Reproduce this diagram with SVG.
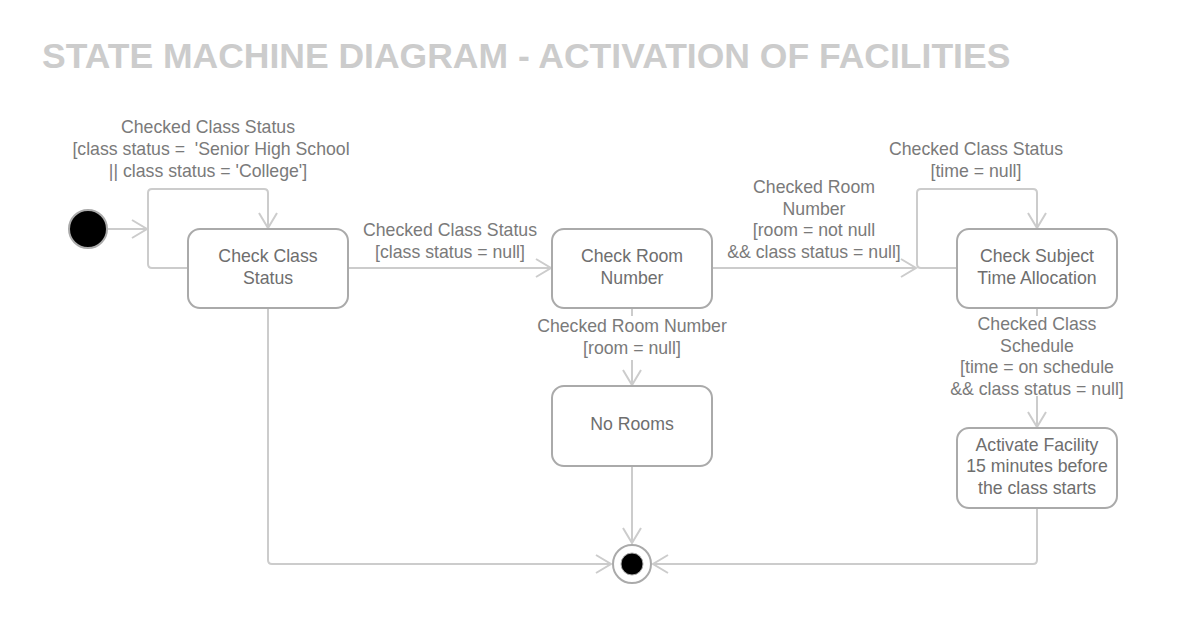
<svg xmlns="http://www.w3.org/2000/svg" width="1188" height="624" viewBox="0 0 1188 624">
<style>
.title{font-family:"Liberation Sans",Arial,sans-serif;font-weight:bold;font-size:35.5px;fill:#cccccc}
.node rect{fill:#ffffff;stroke:#aaaaaa;stroke-width:2}
.nt{font-family:"Liberation Sans",Arial,sans-serif;font-size:17.7px;fill:#6e6e6e;text-anchor:middle}
.lb{font-family:"Liberation Sans",Arial,sans-serif;font-size:17.7px;fill:#7a7a7a;text-anchor:middle}
.edge{fill:none;stroke:#cccccc;stroke-width:2;stroke-linejoin:round}
.ah{fill:none;stroke:#cccccc;stroke-width:2}
</style>
<defs>
<marker id="arr" markerWidth="20" markerHeight="20" refX="17" refY="10" orient="auto" markerUnits="userSpaceOnUse">
<path class="ah" d="M2,1 L17,10 L2,19"/>
</marker>
</defs>
<rect width="1188" height="624" fill="#ffffff"/>
<text class="title" x="42" y="68">STATE MACHINE DIAGRAM - ACTIVATION OF FACILITIES</text>

<g id="connectors">
<path class="edge" d="M108,229 H147" marker-end="url(#arr)"/>
<path class="edge" d="M188,268 H152 Q148,268 148,264 V193 Q148,189 152,189 H264 Q268,189 268,193 V228" marker-end="url(#arr)"/>
<path class="edge" d="M348,268 H551" marker-end="url(#arr)"/>
<path class="edge" d="M712,268 H916" marker-end="url(#arr)"/>
<path class="edge" d="M957,268 H921 Q917,268 917,264 V193 Q917,189 921,189 H1033 Q1037,189 1037,193 V228" marker-end="url(#arr)"/>
<path class="edge" d="M632,308 V385" marker-end="url(#arr)"/>
<path class="edge" d="M632,466 V543" marker-end="url(#arr)"/>
<path class="edge" d="M268,308 V560 Q268,564 272,564 H611" marker-end="url(#arr)"/>
<path class="edge" d="M1037,308 V427" marker-end="url(#arr)"/>
<path class="edge" d="M1037,508 V560 Q1037,564 1033,564 H653" marker-end="url(#arr)"/>
<rect x="530" y="316" width="204" height="44" fill="#ffffff"/>
<rect x="944" y="316" width="186" height="80" fill="#ffffff"/>
<text class="lb" x="208" y="133">Checked Class Status</text>
<text class="lb" x="211" y="155" xml:space="preserve">[class status =  'Senior High School</text>
<text class="lb" x="208" y="177">|| class status = 'College']</text>
<text class="lb" x="450" y="236">Checked Class Status</text>
<text class="lb" x="450" y="258">[class status = null]</text>
<text class="lb" x="814" y="193">Checked Room</text>
<text class="lb" x="814" y="215">Number</text>
<text class="lb" x="814" y="236">[room = not null</text>
<text class="lb" x="814" y="258">&amp;&amp; class status = null]</text>
<text class="lb" x="976" y="155">Checked Class Status</text>
<text class="lb" x="976" y="177">[time = null]</text>
<text class="lb" x="632" y="332">Checked Room Number</text>
<text class="lb" x="632" y="354">[room = null]</text>
<text class="lb" x="1037" y="330">Checked Class</text>
<text class="lb" x="1037" y="352">Schedule</text>
<text class="lb" x="1037" y="373">[time = on schedule</text>
<text class="lb" x="1037" y="395">&amp;&amp; class status = null]</text>
</g>

<g id="initial">
<circle cx="88" cy="229" r="19" fill="#000000" stroke="#aaaaaa" stroke-width="2"/>
</g>
<g id="check-class-status" class="node">
<rect x="188" y="229" width="160" height="79" rx="12"/>
<text class="nt" x="268" y="262">Check Class</text>
<text class="nt" x="268" y="284">Status</text>
</g>
<g id="check-room-number" class="node">
<rect x="552" y="229" width="160" height="79" rx="12"/>
<text class="nt" x="632" y="262">Check Room</text>
<text class="nt" x="632" y="284">Number</text>
</g>
<g id="check-subject-time" class="node">
<rect x="957" y="229" width="160" height="79" rx="12"/>
<text class="nt" x="1037" y="262">Check Subject</text>
<text class="nt" x="1037" y="284">Time Allocation</text>
</g>
<g id="no-rooms" class="node">
<rect x="552" y="386" width="160" height="80" rx="12"/>
<text class="nt" x="632" y="430">No Rooms</text>
</g>
<g id="activate-facility" class="node">
<rect x="957" y="428" width="160" height="80" rx="12"/>
<text class="nt" x="1037" y="451">Activate Facility</text>
<text class="nt" x="1037" y="472">15 minutes before</text>
<text class="nt" x="1037" y="494">the class starts</text>
</g>
<g id="final">
<circle cx="632" cy="564" r="19" fill="#ffffff" stroke="#aaaaaa" stroke-width="2"/>
<circle cx="632" cy="564" r="11" fill="#000000" stroke="#aaaaaa" stroke-width="1"/>
</g>
</svg>
